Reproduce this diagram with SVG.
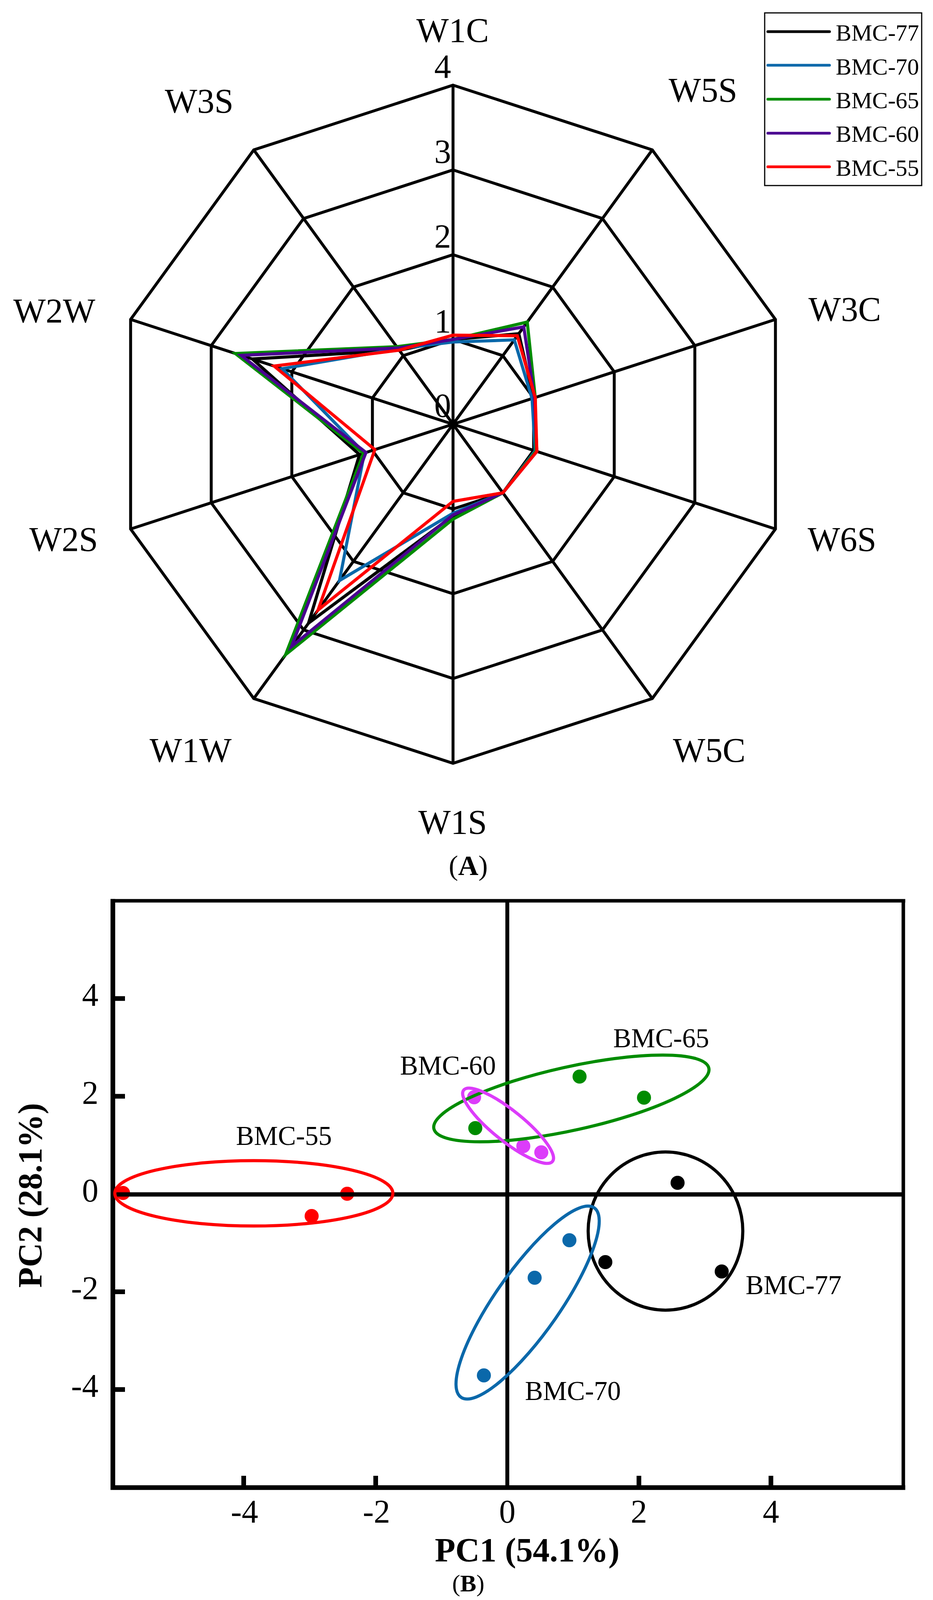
<svg xmlns="http://www.w3.org/2000/svg" width="2389" height="4345" viewBox="0 0 2389 4345">
<style>
text{font-family:"Liberation Serif","Times New Roman",serif;fill:#000}
.grid{fill:none;stroke:#000;stroke-width:7.5;stroke-linejoin:miter}
.data{fill:none;stroke-width:8;stroke-linejoin:miter;stroke-miterlimit:6}
.ax{font-size:88px;text-anchor:middle}
.num{font-size:86px;text-anchor:end}
.leg{font-size:60px}
.tick{font-size:84px}
.grp{font-size:69px;text-anchor:middle}
.ttl{font-size:86px;font-weight:bold;text-anchor:middle}
.cap{font-size:72px;text-anchor:middle}
.ns{vector-effect:non-scaling-stroke}
.ell{fill:none;stroke-width:8;vector-effect:non-scaling-stroke}
</style>
<rect width="2389" height="4345" fill="#fff"/>

<g id="radar-grid" transform="translate(1160,1086)">
<polygon class="grid" points="0,-217 127.55,-175.55 206.39,-67.05 206.39,67.05 127.55,175.55 0,217 -127.55,175.55 -206.39,67.05 -206.39,-67.05 -127.55,-175.55"/>
<polygon class="grid" points="0,-434 255.1,-351.1 412.78,-134.1 412.78,134.1 255.1,351.1 0,434 -255.1,351.1 -412.78,134.1 -412.78,-134.1 -255.1,-351.1"/>
<polygon class="grid" points="0,-651 382.65,-526.65 619.17,-201.15 619.17,201.15 382.65,526.65 0,651 -382.65,526.65 -619.17,201.15 -619.17,-201.15 -382.65,-526.65"/>
<polygon class="grid" points="0,-868 510.2,-702.2 825.56,-268.2 825.56,268.2 510.2,702.2 0,868 -510.2,702.2 -825.56,268.2 -825.56,-268.2 -510.2,-702.2"/>
<line class="grid" x1="0" y1="-868" x2="0" y2="868"/>
<line class="grid" x1="510.2" y1="-702.2" x2="-510.2" y2="702.2"/>
<line class="grid" x1="825.56" y1="-268.2" x2="-825.56" y2="268.2"/>
<line class="grid" x1="825.56" y1="268.2" x2="-825.56" y2="-268.2"/>
<line class="grid" x1="510.2" y1="702.2" x2="-510.2" y2="-702.2"/>
</g>

<g id="radar-scale">
<text class="num" x="1155" y="199">4</text>
<text class="num" x="1155" y="417">3</text>
<text class="num" x="1155" y="634">2</text>
<text class="num" x="1155" y="851">1</text>
<text class="num" x="1155" y="1067">0</text>
</g>

<g id="radar-axis-labels">
<text class="ax" x="1159" y="107">W1C</text>
<text class="ax" x="1800" y="260">W5S</text>
<text class="ax" x="2163" y="821">W3C</text>
<text class="ax" x="2156" y="1410">W6S</text>
<text class="ax" x="1816" y="1950">W5C</text>
<text class="ax" x="1159" y="2134">W1S</text>
<text class="ax" x="488" y="1950">W1W</text>
<text class="ax" x="163" y="1410">W2S</text>
<text class="ax" x="139" y="825">W2W</text>
<text class="ax" x="510" y="288">W3S</text>
</g>

<g id="radar-data" transform="translate(1160,1086)">
<polygon id="bmc77" class="data" stroke="#000000" points="0,-217 168.4,-231.7 206.4,-67.1 212.6,69.1 127.6,175.6 0,234.4 -369.9,509.1 -239.4,77.8 -513.9,-167 -137.8,-189.6"/>
<polygon id="bmc70" class="data" stroke="#0a68aa" points="0,-210.5 156.9,-215.9 202.3,-65.7 210.5,68.4 127.6,175.6 0,227.9 -290.8,400.3 -227,73.8 -437.5,-142.1 -140.3,-193.1"/>
<polygon id="bmc65" class="data" stroke="#008c00" points="0,-217 190,-261.6 210.5,-68.4 212.6,69.1 127.6,175.6 0,243 -428.6,589.8 -229.1,74.4 -557.3,-181 -144.1,-198.4"/>
<polygon id="bmc60" class="data" stroke="#4a0090" points="0,-217 181.1,-249.3 208.5,-67.7 214.6,69.7 127.6,175.6 0,232.2 -413.3,568.8 -222.9,72.4 -542.8,-176.3 -141.6,-194.9"/>
<polygon id="bmc55" class="data" stroke="#ff0000" points="0,-227.9 164.5,-226.5 210.5,-68.4 214.6,69.7 127.6,175.6 0,197.5 -345.7,475.7 -200.2,65 -458.2,-148.9 -137.8,-189.6"/>
</g>

<g id="legend">
<rect x="1958" y="33" width="402" height="442" fill="#fff" stroke="#000" stroke-width="3"/>
<g stroke-width="7" stroke-linecap="round">
<line x1="1966" y1="81" x2="2124" y2="81" stroke="#000000"/>
<line x1="1966" y1="167" x2="2124" y2="167" stroke="#0a68aa"/>
<line x1="1966" y1="254" x2="2124" y2="254" stroke="#008c00"/>
<line x1="1966" y1="341" x2="2124" y2="341" stroke="#4a0090"/>
<line x1="1966" y1="427" x2="2124" y2="427" stroke="#ff0000"/>
</g>
<text class="leg" x="2140" y="104">BMC-77</text>
<text class="leg" x="2140" y="191">BMC-70</text>
<text class="leg" x="2140" y="277">BMC-65</text>
<text class="leg" x="2140" y="363">BMC-60</text>
<text class="leg" x="2140" y="450">BMC-55</text>
</g>

<g id="caption-a"><text class="cap" x="1199" y="2240">(<tspan font-weight="bold">A</tspan>)</text></g>

<g id="pca-frame" transform="translate(0,2306) scale(1,0.92) translate(0,-2314)">
<line class="ns" x1="289" y1="2309" x2="289" y2="3953" stroke="#000" stroke-width="12"/>
<line class="ns" x1="283" y1="3947" x2="2318" y2="3947" stroke="#000" stroke-width="12"/>
<line class="ns" x1="283" y1="2314" x2="2318" y2="2314" stroke="#000" stroke-width="9"/>
<line class="ns" x1="2313" y1="2310" x2="2313" y2="3953" stroke="#000" stroke-width="9"/>
<g stroke="#000" stroke-width="12">
<line class="ns" x1="295" y1="2586" x2="320" y2="2586"/>
<line class="ns" x1="295" y1="2858" x2="320" y2="2858"/>
<line class="ns" x1="295" y1="3402" x2="320" y2="3402"/>
<line class="ns" x1="295" y1="3674" x2="320" y2="3674"/>
<line class="ns" x1="624" y1="3941" x2="624" y2="3914"/>
<line class="ns" x1="962" y1="3941" x2="962" y2="3914"/>
<line class="ns" x1="1636" y1="3941" x2="1636" y2="3914"/>
<line class="ns" x1="1974" y1="3941" x2="1974" y2="3914"/>
</g>
</g>

<g id="pca-tick-labels">
<text class="tick" text-anchor="end" x="252" y="2575">4</text>
<text class="tick" text-anchor="end" x="252" y="2826">2</text>
<text class="tick" text-anchor="end" x="252" y="3076">0</text>
<text class="tick" text-anchor="end" x="252" y="3326">-2</text>
<text class="tick" text-anchor="end" x="252" y="3576">-4</text>
<text class="tick" text-anchor="middle" x="626" y="3898">-4</text>
<text class="tick" text-anchor="middle" x="964" y="3898">-2</text>
<text class="tick" text-anchor="middle" x="1299" y="3898">0</text>
<text class="tick" text-anchor="middle" x="1636" y="3898">2</text>
<text class="tick" text-anchor="middle" x="1974" y="3898">4</text>
</g>

<g id="pca-axis-titles">
<text class="ttl" x="1350" y="3997">PC1 (54.1%)</text>
<text class="ttl" transform="translate(106,3060) rotate(-90)" x="0" y="0">PC2 (28.1%)</text>
</g>

<g id="pca-points">
<g fill="#ff0000"><circle cx="315" cy="3054" r="18"/><circle cx="889" cy="3056" r="18"/><circle cx="798" cy="3113" r="18"/></g>
<g fill="#008c00"><circle cx="1484" cy="2756" r="18"/><circle cx="1649" cy="2810" r="18"/><circle cx="1217" cy="2888" r="18"/></g>
<g fill="#dc3cfa"><circle cx="1214" cy="2809" r="18"/><circle cx="1340" cy="2934" r="18"/><circle cx="1386" cy="2950" r="18"/></g>
<g fill="#000000"><circle cx="1735" cy="3028" r="18"/><circle cx="1550" cy="3231" r="18"/><circle cx="1848" cy="3255" r="18"/></g>
<g fill="#0a68aa"><circle cx="1458" cy="3175" r="18"/><circle cx="1369" cy="3271" r="18"/><circle cx="1239" cy="3521" r="18"/></g>
</g>

<g id="pca-zero-lines" stroke="#000" transform="translate(0,2306) scale(1,0.92) translate(0,-2314)">
<line class="ns" x1="295" y1="3131" x2="2313" y2="3131" stroke-width="11"/>
<line class="ns" x1="1299" y1="2314" x2="1299" y2="3947" stroke-width="10"/>
</g>

<g id="pca-ellipses" transform="translate(0,2306) scale(1,0.92) translate(0,-2314)">
<ellipse id="e55" class="ell" stroke="#ff0000" cx="650" cy="3128" rx="356" ry="91"/>
<ellipse id="e65" class="ell" stroke="#008c00" cx="0" cy="0" rx="362" ry="88" transform="translate(1463,2864) rotate(-13.6)"/>
<ellipse id="e60" class="ell" stroke="#dc3cfa" cx="0" cy="0" rx="151" ry="41" transform="translate(1301,2940) rotate(41.5)"/>
<ellipse id="e77" class="ell" stroke="#000000" stroke-width="12" cx="1704" cy="3233" rx="198" ry="220"/>
<ellipse id="e70" class="ell" stroke="#0a68aa" cx="0" cy="0" rx="314" ry="84" transform="translate(1351,3432) rotate(-57.4)"/>
</g>

<g id="pca-group-labels">
<text class="grp" x="1693" y="2681">BMC-65</text>
<text class="grp" x="1147" y="2751">BMC-60</text>
<text class="grp" x="727" y="2931">BMC-55</text>
<text class="grp" x="2032" y="3313">BMC-77</text>
<text class="grp" x="1467" y="3584">BMC-70</text>
</g>

<g id="caption-b"><text font-size="62" text-anchor="middle" x="1199" y="4074">(<tspan font-weight="bold">B</tspan>)</text></g>
</svg>
